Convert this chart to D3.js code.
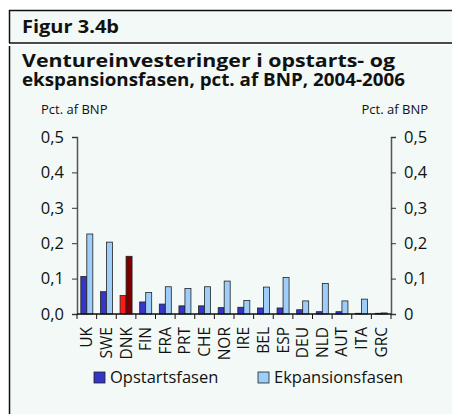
<!DOCTYPE html>
<html>
<head>
<meta charset="utf-8">
<script src="https://cdn.jsdelivr.net/npm/d3@7"></script>
<style>
  body { margin: 0; background: #fff; }
  svg { display: block; font-family: 'Open Sans', sans-serif; }
</style>
</head>
<body>
<div id="chart"></div>
<script>
const countries = ['UK', 'SWE', 'DNK', 'FIN', 'FRA', 'PRT', 'CHE', 'NOR', 'IRE', 'BEL', 'ESP', 'DEU', 'NLD', 'AUT', 'ITA', 'GRC']
const opstart = [0.106, 0.063, 0.052, 0.034, 0.028, 0.023, 0.023, 0.018, 0.019, 0.017, 0.017, 0.012, 0.0065, 0.0065, 0.002, 0.002]
const ekspansion = [0.226, 0.203, 0.163, 0.061, 0.077, 0.072, 0.077, 0.093, 0.038, 0.076, 0.103, 0.037, 0.086, 0.037, 0.042, 0.003]
const yTicks = [0, 0.1, 0.2, 0.3, 0.4, 0.5]
const seriesNames = ['Opstartsfasen', 'Ekpansionsfasen']

const dimentions = { width: 452, height: 414 }
const margin = { left: 77, right: 61, top: 137, bottom: 100 }

const colors = { dark: '#3535c8', light: '#9dcdf8', dnkDark: '#ff1a1a', dnkLight: '#7a0000' }

const svg = d3.select('#chart')
  .append('svg')
  .attr('width', dimentions.width)
  .attr('height', dimentions.height)

// baggrund og rammer
svg.append('rect')
  .attr('x', 9).attr('y', 10)
  .attr('width', dimentions.width - 9).attr('height', dimentions.height - 10)
  .attr('fill', '#f2f9f6')

svg.append('rect')
  .attr('x', 9).attr('y', 43.5)
  .attr('width', dimentions.width - 9).attr('height', 2)
  .attr('fill', '#fff')

const frame = svg.append('g').attr('stroke', '#111').attr('stroke-width', 1.5)
frame.append('line').attr('x1', 9).attr('x2', dimentions.width).attr('y1', 10.5).attr('y2', 10.5)
frame.append('line').attr('x1', 9).attr('x2', dimentions.width).attr('y1', 43).attr('y2', 43)
frame.append('line').attr('x1', 9.5).attr('x2', 9.5).attr('y1', 10).attr('y2', 43)
frame.append('line').attr('x1', 9.5).attr('x2', 9.5).attr('y1', 46).attr('y2', dimentions.height)

// titler (smallere bogstaver som i originalen)
const squeeze = (sel, width) => {
  sel.attr('textLength', width).attr('lengthAdjust', 'spacingAndGlyphs')
}

svg.append('text')
  .attr('x', 22).attr('y', 33)
  .attr('font-size', 18).attr('font-weight', 700).attr('fill', '#111')
  .text('Figur 3.4b')
  .call(squeeze, 97)

svg.append('text')
  .attr('x', 22).attr('y', 67)
  .attr('font-size', 17.5).attr('font-weight', 700).attr('fill', '#111')
  .text('Ventureinvesteringer i opstarts- og')
  .call(squeeze, 373)

svg.append('text')
  .attr('x', 22).attr('y', 86)
  .attr('font-size', 17.5).attr('font-weight', 700).attr('fill', '#111')
  .text('ekspansionsfasen, pct. af BNP, 2004-2006')
  .call(squeeze, 383)

const x = d3.scaleBand()
  .domain(countries)
  .range([margin.left, dimentions.width - margin.right])

const y = d3.scaleLinear()
  .domain([0, 0.5])
  .range([dimentions.height - margin.bottom, margin.top])

const fmt = d => d3.format('.1f')(d).replace('.', ',')

// akser
const leftAxis = svg.append('g')
  .attr('transform', `translate(${margin.left},0)`)
  .call(d3.axisLeft(y).tickValues(yTicks).tickFormat(fmt).tickSize(5).tickPadding(8))

const rightAxis = svg.append('g')
  .attr('transform', `translate(${dimentions.width - margin.right},0)`)
  .call(d3.axisRight(y).tickValues(yTicks).tickFormat(d => d === 0 ? '0' : fmt(d)).tickSize(5).tickPadding(8))

;[leftAxis, rightAxis].forEach(a => {
  a.select('.domain').attr('stroke', '#555').attr('stroke-width', 1.5)
  a.selectAll('.tick line').attr('stroke', '#333')
  a.selectAll('.tick text').attr('font-size', 16.5).attr('fill', '#111').attr('font-family', 'Open Sans, sans-serif')
})

svg.append('text')
  .attr('x', 41).attr('y', 114)
  .attr('font-size', 13).attr('fill', '#111')
  .text('Pct. af BNP')

svg.append('text')
  .attr('x', 428).attr('y', 114)
  .attr('text-anchor', 'end')
  .attr('font-size', 13).attr('fill', '#111')
  .text('Pct. af BNP')

// søjler
const barW = 6
const bars = svg.append('g').attr('stroke', '#222').attr('stroke-width', 0.8)

bars.selectAll('rect.op')
  .data(countries)
  .join('rect')
  .attr('class', 'op')
  .attr('x', d => x(d) + x.bandwidth() / 2 - barW)
  .attr('width', barW)
  .attr('y', (d, i) => y(opstart[i]))
  .attr('height', (d, i) => y(0) - y(opstart[i]))
  .attr('fill', d => d === 'DNK' ? colors.dnkDark : colors.dark)

bars.selectAll('rect.ek')
  .data(countries)
  .join('rect')
  .attr('class', 'ek')
  .attr('x', d => x(d) + x.bandwidth() / 2)
  .attr('width', barW)
  .attr('y', (d, i) => y(ekspansion[i]))
  .attr('height', (d, i) => y(0) - y(ekspansion[i]))
  .attr('fill', d => d === 'DNK' ? colors.dnkLight : colors.light)

// x-akse
const xAxis = svg.append('g')
  .attr('transform', `translate(0,${y(0)})`)

xAxis.append('line')
  .attr('x1', margin.left).attr('x2', dimentions.width - margin.right)
  .attr('stroke', '#111').attr('stroke-width', 1.5)

xAxis.selectAll('line.tick')
  .data(countries.concat(['end']))
  .join('line')
  .attr('class', 'tick')
  .attr('x1', (d, i) => margin.left + i * x.step())
  .attr('x2', (d, i) => margin.left + i * x.step())
  .attr('y1', 0).attr('y2', 5)
  .attr('stroke', '#111')

xAxis.selectAll('text')
  .data(countries)
  .join('text')
  .attr('transform', d => `translate(${x(d) + x.bandwidth() / 2},13) rotate(-90)`)
  .attr('text-anchor', 'end')
  .attr('dy', '0.35em')
  .attr('font-size', 15.5)
  .attr('fill', '#111')
  .text(d => d)

// legende
const legend = svg.append('g')
const legendX = [94, 258]
seriesNames.forEach((name, i) => {
  legend.append('rect')
    .attr('x', legendX[i]).attr('y', 372)
    .attr('width', 11).attr('height', 11)
    .attr('fill', i === 0 ? colors.dark : colors.light)
    .attr('stroke', '#222').attr('stroke-width', 0.8)
  legend.append('text')
    .attr('x', legendX[i] + 16).attr('y', 383)
    .attr('font-size', 16.5).attr('fill', '#111')
    .text(name)
})
</script>
</body>
</html>
